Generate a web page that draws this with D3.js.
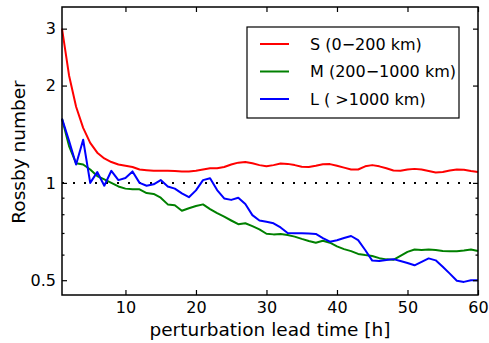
<!DOCTYPE html>
<html>
<head>
<meta charset="utf-8">
<script src="https://cdn.jsdelivr.net/npm/d3@7"></script>
<style>
  html, body { margin: 0; padding: 0; background: #fff; }
  svg { display: block; font-family: "DejaVu Sans", sans-serif; }
</style>
</head>
<body>
<svg id="chart" width="489" height="343"></svg>
<script>
// Rossby number vs perturbation lead time, three scale bands (S / M / L)

const hours = d3.range(1, 61);

const seriesS = [3.00, 2.15, 1.72, 1.48, 1.33, 1.24, 1.19, 1.16, 1.14, 1.13,
  1.12, 1.10, 1.095, 1.09, 1.09, 1.09, 1.088, 1.085, 1.085, 1.09,
  1.10, 1.11, 1.11, 1.12, 1.14, 1.155, 1.16, 1.15, 1.135, 1.125,
  1.135, 1.148, 1.145, 1.135, 1.122, 1.12, 1.13, 1.142, 1.143, 1.13,
  1.115, 1.10, 1.10, 1.125, 1.135, 1.125, 1.11, 1.092, 1.09, 1.10,
  1.105, 1.10, 1.088, 1.077, 1.08, 1.092, 1.10, 1.098, 1.088, 1.08];

const seriesM = [1.58, 1.30, 1.15, 1.14, 1.10, 1.05, 1.025, 1.00, 0.975, 0.96,
  0.955, 0.955, 0.93, 0.924, 0.90, 0.858, 0.853, 0.82, 0.835, 0.848,
  0.858, 0.83, 0.806, 0.786, 0.765, 0.745, 0.75, 0.735, 0.718, 0.696,
  0.693, 0.695, 0.69, 0.682, 0.671, 0.661, 0.653, 0.662, 0.653, 0.636,
  0.624, 0.615, 0.603, 0.598, 0.594, 0.585, 0.58, 0.578, 0.595, 0.612,
  0.622, 0.62, 0.622, 0.62, 0.616, 0.615, 0.615, 0.618, 0.622, 0.616];

const seriesL = [1.58, 1.35, 1.14, 1.36, 1.00, 1.08, 0.98, 1.09, 1.02, 1.035,
  1.085, 1.00, 0.98, 0.99, 1.02, 0.975, 0.96, 0.928, 0.903, 0.948,
  1.02, 1.034, 0.95, 0.895, 0.886, 0.90, 0.86, 0.795, 0.765, 0.758,
  0.75, 0.728, 0.70, 0.698, 0.698, 0.697, 0.695, 0.675, 0.658, 0.665,
  0.675, 0.685, 0.665, 0.62, 0.575, 0.573, 0.577, 0.581, 0.573, 0.565,
  0.556, 0.57, 0.584, 0.576, 0.55, 0.524, 0.498, 0.494, 0.50, 0.50];

const seriesNames = ['S (0\u2212200 km)', 'M (200\u22121000 km)', 'L ( >1000 km)'];
const seriesColors = ['#ff0000', '#008000', '#0000ff'];

const xTicks = [10, 20, 30, 40, 50, 60];
const yTicks = [0.5, 1, 2, 3];
const yMinorTicks = [0.6, 0.7, 0.8, 0.9];

const svg = d3.select('#chart');
const L = 62, R = 478, T = 7, B = 295;

const x = d3.scaleLinear().domain([1, 60]).range([L, R]);
const y = d3.scaleLog().domain([0.45, 3.5]).range([B, T]);

// reference line at Ro = 1
svg.append('line')
  .attr('x1', x(1)).attr('x2', x(60))
  .attr('y1', y(1)).attr('y2', y(1))
  .attr('stroke', '#000').attr('stroke-width', 2)
  .attr('stroke-dasharray', '2,9');

const line = d3.line().x((d, i) => x(hours[i])).y(d => y(d));
[seriesS, seriesM, seriesL].forEach((s, k) => {
  svg.append('path').datum(s)
    .attr('d', line)
    .attr('fill', 'none')
    .attr('stroke', seriesColors[k])
    .attr('stroke-width', 2)
    .attr('stroke-linejoin', 'round');
});

// axes: ticks pointing inwards, on all four sides
const fs = '16px';
const gB = svg.append('g').attr('transform', `translate(0,${B})`)
  .call(d3.axisBottom(x).tickValues(xTicks).tickSize(-5).tickPadding(7).tickFormat(d3.format('d')));
const gT = svg.append('g').attr('transform', `translate(0,${T})`)
  .call(d3.axisTop(x).tickValues(xTicks).tickSize(-5).tickFormat(''));
const gL = svg.append('g').attr('transform', `translate(${L},0)`)
  .call(d3.axisLeft(y).tickValues(yTicks).tickSize(-5).tickPadding(6).tickFormat(d => String(d)));
const gR = svg.append('g').attr('transform', `translate(${R},0)`)
  .call(d3.axisRight(y).tickValues(yTicks).tickSize(-5).tickFormat(''));
const gLm = svg.append('g').attr('transform', `translate(${L},0)`)
  .call(d3.axisLeft(y).tickValues(yMinorTicks).tickSize(-2.5).tickFormat(''));
const gRm = svg.append('g').attr('transform', `translate(${R},0)`)
  .call(d3.axisRight(y).tickValues(yMinorTicks).tickSize(-2.5).tickFormat(''));

[gB, gT, gL, gR, gLm, gRm].forEach(g => {
  g.select('.domain').remove();
  g.selectAll('line').attr('stroke', '#000').attr('stroke-width', 1.2);
  g.selectAll('text').attr('fill', '#000').style('font-size', fs)
    .style('font-family', '"DejaVu Sans", sans-serif');
});

// frame
svg.append('rect')
  .attr('x', L).attr('y', T).attr('width', R - L).attr('height', B - T)
  .attr('fill', 'none').attr('stroke', '#000').attr('stroke-width', 1.5);

// axis titles
svg.append('text')
  .attr('x', (L + R) / 2).attr('y', 336)
  .attr('text-anchor', 'middle').style('font-size', '18.5px')
  .text('perturbation lead time [h]');
svg.append('text')
  .attr('transform', 'translate(25,152) rotate(-90)')
  .attr('text-anchor', 'middle').style('font-size', '18.5px')
  .text('Rossby number');

// legend
const lg = svg.append('g');
lg.append('rect')
  .attr('x', 247).attr('y', 27).attr('width', 212).attr('height', 91)
  .attr('fill', '#fff').attr('stroke', '#000').attr('stroke-width', 1.2);
seriesNames.forEach((nm, k) => {
  const yy = 44 + k * 27.5;
  lg.append('line').attr('x1', 260).attr('x2', 289).attr('y1', yy).attr('y2', yy)
    .attr('stroke', seriesColors[k]).attr('stroke-width', 2);
  lg.append('text').attr('x', 310).attr('y', yy).attr('dy', '0.36em')
    .style('font-size', fs).text(nm);
});
</script>
</body>
</html>
